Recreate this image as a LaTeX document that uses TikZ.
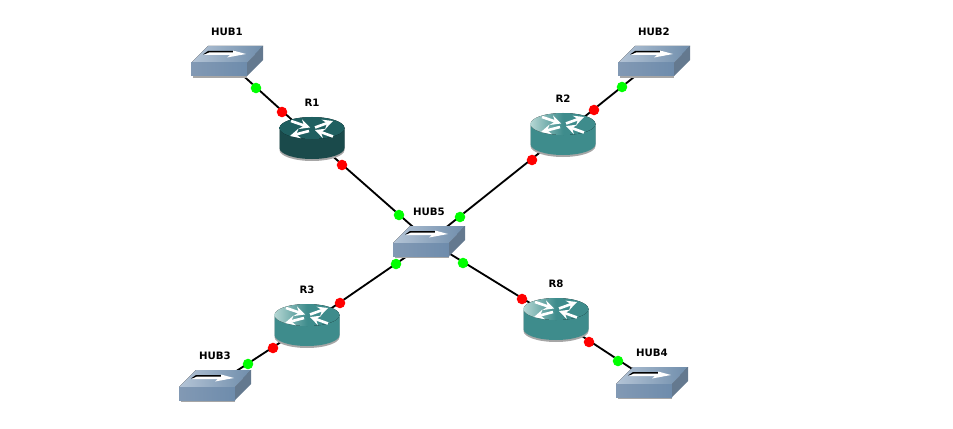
\documentclass[tikz,border=0pt]{standalone}
\usepackage{tikz}
\usepackage{fontspec}
\setsansfont{DejaVu Sans}
\usetikzlibrary{arrows}
\definecolor{hubtopa}{HTML}{B4C4D6}
\definecolor{hubtopb}{HTML}{6F8DAB}
\definecolor{hubfronta}{HTML}{8299B4}
\definecolor{hubfrontb}{HTML}{6E8CAC}
\definecolor{hubside}{HTML}{64798F}
\definecolor{rtdarktop}{HTML}{1F5F60}
\definecolor{rtdarkside}{HTML}{1A4A4B}
\definecolor{rtlighta}{HTML}{B4D6D3}
\definecolor{rtlightb}{HTML}{3E8C8C}
\tikzstyle{link} = [line width=1.05pt,black]
\tikzstyle{lbl} = [font=\sffamily\bfseries\fontsize{5.8}{6}\selectfont,inner sep=0pt]
\tikzstyle{updot} = [circle,fill=green,inner sep=0pt,minimum size=6pt]
\tikzstyle{rtdot} = [circle,fill=red,inner sep=0pt,minimum size=6pt]
\tikzstyle{wharrow} = [->,>=stealth,white,line width=1.5pt]
\tikzset{
  hubicon/.pic={
    \fill [black!35] (-34,3) -- (20,3) -- (20,17) -- (-34,17) -- cycle;
    \fill [left color=hubtopa,right color=hubtopb] (-36,2) -- (-19,-15) -- (36,-15) -- (20,2) -- cycle;
    \fill [left color=hubfronta,right color=hubfrontb] (-36,2) -- (20,2) -- (20,15) -- (-36,15) -- cycle;
    \fill [hubside] (20,2) -- (36,-15) -- (36,-1) -- (20,15) -- cycle;
    % arrow on the lid
    \fill [black] (-24,-6.5) -- (-19,-10) -- (8,-10) -- (8,-8) -- (-18,-8) -- cycle;
    \fill [white] (-23,-6) -- (-18,-8.5) -- (6,-8.5) -- (6,-10.5) -- (19,-7) -- (0,-3.5) -- (3,-6) -- cycle;
  },
}
\begin{document}
\begin{tikzpicture}[x=0.02cm,y=-0.02cm]
	\useasboundingbox (0,0) rectangle (953,429);
	
	% Centres of the devices:
	\foreach \name/\px/\py in {hub1/227/61,hub2/654/61,hub3/215/385,hub4/652/382,hub5/429/241,r1/312/138,r2/563/134,r3/307/325,r8/556/319}
	{
		\coordinate (\name) at (\px,\py);
	}
	
	% Links:
	\draw [link] (hub1) -- (r1);
	\draw [link] (r1) -- (hub5);
	\draw [link] (hub2) -- (r2);
	\draw [link] (r2) -- (hub5);
	\draw [link] (hub3) -- (r3);
	\draw [link] (r3) -- (hub5);
	\draw [link] (hub4) -- (r8);
	\draw [link] (r8) -- (hub5);
	
	% Hubs:
	\foreach \name in {hub1,hub2,hub3,hub4,hub5}
	{
		\pic at (\name) {hubicon};
	}
	
	% Routers, body first and then the lid with its four arrows:
	\foreach \name/\sidecol/\topa/\topb in {r1/rtdarkside/rtdarktop/rtdarktop,r2/rtlightb/rtlighta/rtlightb,r3/rtlightb/rtlighta/rtlightb,r8/rtlightb/rtlighta/rtlightb}
	{
		\begin{scope}[shift={(\name)}]
			\fill [black!35] (-32.5,-8) -- (-32.5,12) arc [start angle=180,end angle=360,x radius=32.5,y radius=-11] -- (32.5,-8) -- cycle;
			\fill [\sidecol] (-32.5,-10) -- (-32.5,10) arc [start angle=180,end angle=360,x radius=32.5,y radius=-11] -- (32.5,-10) -- cycle;
			\fill [left color=\topa,right color=\topb,middle color=\topb] (0,-10) ellipse [x radius=32.5,y radius=11];
			\draw [wharrow] (-21,-17) -- (-2,-10.5);
			\draw [wharrow] (3,-10.5) -- (21,-17);
			\draw [wharrow] (-3,-7) -- (-22,-2);
			\draw [wharrow] (21,-1.5) -- (3,-8);
		\end{scope}
	}
	
	% Interface dots:
	\foreach \name/\px/\py in {a/256/88,b/622/87,c/399/215,d/460/217,e/396/264,f/463/263,g/248/364,h/618/361}
	{
		\node [updot] (up\name) at (\px,\py) {};
	}
	\foreach \name/\px/\py in {a/282/112,b/342/165,c/594/110,d/532/160,e/340/303,f/273/348,g/522/299,h/589/342}
	{
		\node [rtdot] (dn\name) at (\px,\py) {};
	}
	
	% Labels:
	\foreach \name/\txt/\px/\py in {lhub1/HUB1/227/32,lhub2/HUB2/654/32,lhub3/HUB3/215/356,lhub4/HUB4/652/353,lhub5/HUB5/429/212,lr1/R1/312/103,lr2/R2/563/99,lr3/R3/307/290,lr8/R8/556/284}
	{
		\node [lbl] (\name) at (\px,\py) {\txt};
	}
\end{tikzpicture}
\end{document}
